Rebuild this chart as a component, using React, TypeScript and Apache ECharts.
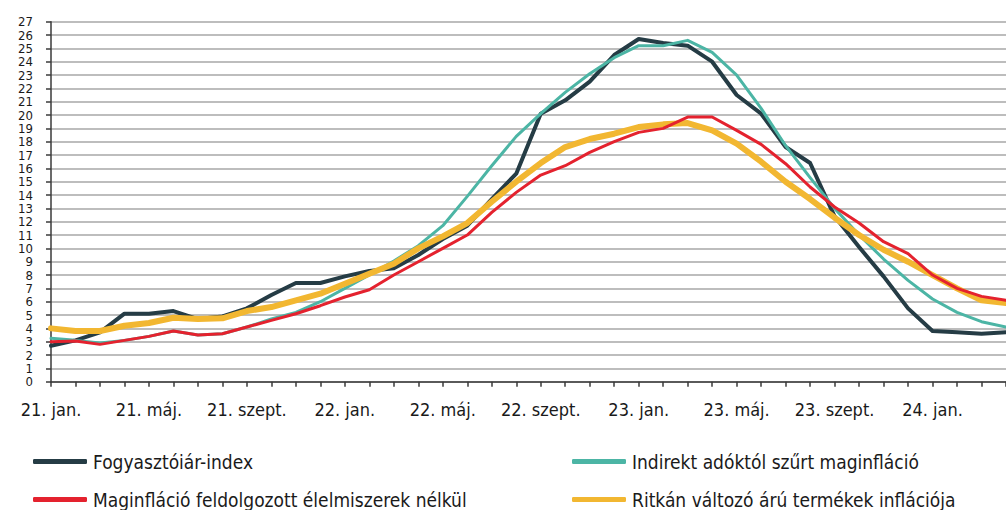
import React, { useEffect, useRef } from "react";
import * as echarts from "echarts";

const monthNames = ["jan.", "febr.", "márc.", "ápr.", "máj.", "jún.", "júl.", "aug.", "szept.", "okt.", "nov.", "dec."];
const years = ["21", "22", "23", "24"];
const categories: string[] = [];
for (const y of years) for (const m of monthNames) categories.push(`${y}. ${m}`);
const cats = categories.slice(0, 40);

const cpi = [
  2.7, 3.1, 3.7, 5.1, 5.1, 5.3, 4.7, 4.9, 5.5, 6.5, 7.4, 7.4,
  7.9, 8.3, 8.5, 9.5, 10.7, 11.7, 13.7, 15.6, 20.1, 21.1, 22.5, 24.5,
  25.7, 25.4, 25.2, 24.0, 21.5, 20.1, 17.6, 16.4, 12.4, 10.1, 7.9, 5.5,
  3.8, 3.7, 3.6, 3.7,
];
const coreTax = [
  3.25, 3.1, 2.9, 3.1, 3.4, 3.8, 3.5, 3.6, 4.1, 4.7, 5.2, 6.0,
  7.0, 8.0, 9.05, 10.2, 11.7, 13.9, 16.2, 18.4, 20.1, 21.7, 23.1, 24.3,
  25.2, 25.2, 25.6, 24.7, 23.0, 20.5, 17.7, 15.3, 13.0, 11.0, 9.2, 7.6,
  6.2, 5.2, 4.5, 4.1,
];
const coreNoFood = [
  3.0, 3.05, 2.8, 3.1, 3.4, 3.8, 3.5, 3.6, 4.1, 4.6, 5.1, 5.7,
  6.35, 6.9, 8.0, 9.0, 10.0, 11.0, 12.7, 14.2, 15.5, 16.2, 17.2, 18.0,
  18.7, 19.0, 19.85, 19.85, 18.85, 17.8, 16.35, 14.6, 13.1, 11.9, 10.5, 9.6,
  8.0, 7.0, 6.4, 6.1,
];
const sticky = [
  4.0, 3.8, 3.8, 4.2, 4.4, 4.8, 4.7, 4.75, 5.3, 5.6, 6.1, 6.6,
  7.35, 8.1, 8.85, 10.0, 10.9, 11.9, 13.5, 15.0, 16.4, 17.6, 18.2, 18.6,
  19.1, 19.3, 19.4, 18.85, 17.85, 16.5, 15.0, 13.7, 12.3, 11.0, 9.9, 9.0,
  8.0, 7.0, 6.1, 5.9,
];

const names = [
  "Fogyasztóiár-index",
  "Indirekt adóktól szűrt maginfláció",
  "Maginfláció feldolgozott élelmiszerek nélkül",
  "Ritkán változó árú termékek inflációja",
];
const colors = ["#253c45", "#4cb5a5", "#e4222e", "#f2b731"];

const FONT = "'DejaVu Sans Condensed', 'Liberation Sans Narrow', 'Roboto', sans-serif";

export default function App() {
  const ref = useRef<HTMLDivElement>(null);
  useEffect(() => {
    if (!ref.current) return;
    const chart = echarts.init(ref.current, undefined, { renderer: "svg" });
    const mk = (i: number, data: number[], width: number, z: number) => ({
      name: names[i],
      type: "line",
      data,
      symbol: "none",
      z,
      lineStyle: { color: colors[i], width, cap: "round", join: "round" },
      itemStyle: { color: colors[i] },
    });
    const legendPos = [
      { left: 33, top: 452 },
      { left: 572, top: 452 },
      { left: 33, top: 490 },
      { left: 572, top: 490 },
    ];
    const legends = names.map((n, i) => ({
      left: legendPos[i].left,
      top: legendPos[i].top,
      padding: 0,
      itemWidth: 54,
      itemHeight: 5,
      itemGap: 0,
      icon: "roundRect",
      data: [n],
      textStyle: { fontFamily: FONT, fontSize: 19, color: "#1a1a1a", padding: [0, 0, 0, 1] },
    }));
    chart.setOption({
      animation: false,
      backgroundColor: "#ffffff",
      grid: { left: 51, top: 21.7, right: -12.7, bottom: 128.3, containLabel: false },
      legend: legends,
      xAxis: {
        type: "category",
        data: cats,
        boundaryGap: false,
        axisLine: { lineStyle: { color: "#3a3a3a", width: 1.5 } },
        axisTick: { show: true, interval: 0, length: 5, lineStyle: { color: "#3a3a3a", width: 1.5 } },
        axisLabel: {
          interval: 3,
          margin: 19,
          fontFamily: FONT,
          fontSize: 18,
          color: "#1a1a1a",
        },
        splitLine: { show: false },
      },
      yAxis: {
        type: "value",
        min: 0,
        max: 27,
        interval: 1,
        axisLine: { show: true, lineStyle: { color: "#3a3a3a", width: 1.5 } },
        axisTick: { show: true, length: 5, lineStyle: { color: "#3a3a3a", width: 1.5 } },
        axisLabel: {
          margin: 18,
          fontFamily: FONT,
          fontSize: 13,
          lineHeight: 13,
          color: "#1a1a1a",
        },
        splitLine: { show: true, lineStyle: { color: "#bdbdbd", width: 2 } },
      },
      series: [
        mk(0, cpi, 4, 2),
        mk(1, coreTax, 3, 3),
        mk(3, sticky, 6, 4),
        mk(2, coreNoFood, 3, 5),
      ],
    });
    return () => chart.dispose();
  }, []);
  return (
    <div
      ref={ref}
      style={{ position: "fixed", left: 0, top: 0, width: 1006, height: 510, background: "#fff" }}
    />
  );
}
